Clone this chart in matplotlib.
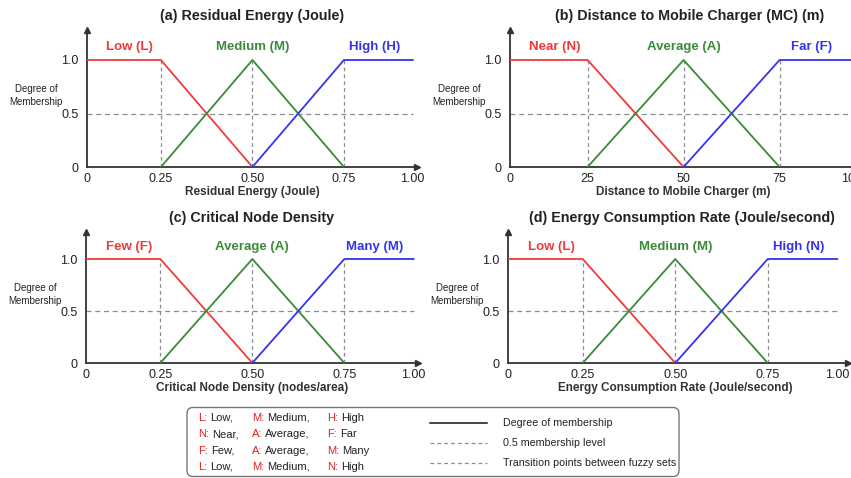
import numpy as np
import matplotlib
matplotlib.use("Agg")
import matplotlib.pyplot as plt
from matplotlib.patches import FancyBboxPatch

plt.rcParams["font.family"] = ["Liberation Sans", "DejaVu Sans"]

# membership breakpoints (x) and degrees (mu) for each panel
ENERGY_LOW_X = [0.0, 0.25, 0.50]
ENERGY_MID_X = [0.25, 0.50, 0.75]
ENERGY_HIGH_X = [0.50, 0.75, 1.00]
DIST_LOW_X = [0, 25, 50]
DIST_MID_X = [25, 50, 75]
DIST_HIGH_X = [50, 75, 100]
LOW_MU = [1.0, 1.0, 0.0]
MID_MU = [0.0, 1.0, 0.0]
HIGH_MU = [0.0, 1.0, 1.0]

FRAC_TICKS = [0.0, 0.25, 0.50, 0.75, 1.00]
FRAC_TICKLABELS = ["0", "0.25", "0.50", "0.75", "1.00"]
DIST_TICKS = [0, 25, 50, 75, 100]
DIST_TICKLABELS = ["0", "25", "50", "75", "100"]
MU_TICKS = [0.0, 0.5, 1.0]
MU_TICKLABELS = ["0", "0.5", "1.0"]

TITLES = [
    "(a) Residual Energy (Joule)",
    "(b) Distance to Mobile Charger (MC) (m)",
    "(c) Critical Node Density",
    "(d) Energy Consumption Rate (Joule/second)",
]
XLABELS = [
    "Residual Energy (Joule)",
    "Distance to Mobile Charger (m)",
    "Critical Node Density (nodes/area)",
    "Energy Consumption Rate (Joule/second)",
]
SET_NAMES = [
    ["Low (L)", "Medium (M)", "High (H)"],
    ["Near (N)", "Average (A)", "Far (F)"],
    ["Few (F)", "Average (A)", "Many (M)"],
    ["Low (L)", "Medium (M)", "High (N)"],
]

LEGEND_ROWS = [
    [("L:", "Low,"), ("M:", "Medium,"), ("H:", "High")],
    [("N:", "Near,"), ("A:", "Average,"), ("F:", "Far")],
    [("F:", "Few,"), ("A:", "Average,"), ("M:", "Many")],
    [("L:", "Low,"), ("M:", "Medium,"), ("N:", "High")],
]
LEGEND_LINES = [
    "Degree of membership",
    "0.5 membership level",
    "Transition points between fuzzy sets",
]

RED = "#f03a3a"
GREEN = "#3a8a3a"
BLUE = "#3434f0"
GRID = "#8c8c8c"
AXIS = "#333333"
TEXT = "#222222"

W, H = 851, 478


def piecewise_scale(span):
    # flat shoulders are drawn narrower than the sloped part in the original
    kx = np.array([-1.0, 0.0, 0.25, 0.75, 1.0, 2.0]) * span
    kt = np.array([-0.808, 0.0, 0.202, 0.702, 0.890, 1.642])
    return (lambda v: np.interp(v, kx, kt)), (lambda v: np.interp(v, kt, kx))


# left px, unit px, y=0 px, px per 1.0, top px, xmax (fraction of span), title x
PANELS = [
    (87, 366, 167, 107, 30, 1.016, 0.50),
    (510, 384, 167, 107, 30, 1.012, 0.52),
    (86, 368, 363, 104, 232, 1.016, 0.50),
    (508, 370, 363, 104, 232, 1.04, 0.51),
]

fig = plt.figure(figsize=(W / 100, H / 100), dpi=100)
fig.patch.set_facecolor("white")

series = [
    (ENERGY_LOW_X, ENERGY_MID_X, ENERGY_HIGH_X, 1.0, FRAC_TICKS, FRAC_TICKLABELS),
    (DIST_LOW_X, DIST_MID_X, DIST_HIGH_X, 100.0, DIST_TICKS, DIST_TICKLABELS),
    (ENERGY_LOW_X, ENERGY_MID_X, ENERGY_HIGH_X, 1.0, FRAC_TICKS, FRAC_TICKLABELS),
    (ENERGY_LOW_X, ENERGY_MID_X, ENERGY_HIGH_X, 1.0, FRAC_TICKS, FRAC_TICKLABELS),
]

for i, (left, unit, y0, one, top, xmax, title_x) in enumerate(PANELS):
    low_x, mid_x, high_x, span, ticks, ticklabels = series[i]
    fwd, inv = piecewise_scale(span)
    width = fwd(xmax * span) * unit
    height = y0 - top
    ax = fig.add_axes([left / W, (H - y0) / H, width / W, height / H])
    ax.set_xscale("function", functions=(fwd, inv))
    ax.set_xlim(0, xmax * span)
    ax.set_ylim(0, height / one)

    # guides
    ax.plot([0, span], [0.5, 0.5], color=GRID, lw=0.9, dashes=(4, 3), zorder=1)
    for xv in mid_x:
        ax.plot([xv, xv], [0, 1], color=GRID, lw=0.9, dashes=(3, 2.5), zorder=1)

    ax.plot(low_x, LOW_MU, color=RED, lw=1.3, zorder=3)
    ax.plot(mid_x, MID_MU, color=GREEN, lw=1.3, zorder=3)
    ax.plot(high_x, HIGH_MU, color=BLUE, lw=1.3, zorder=3)

    names = SET_NAMES[i]
    label_x = [0.145 * span, mid_x[1], 0.86 * span]
    for name, xv, col in zip(names, label_x, [RED, GREEN, BLUE]):
        ax.text(xv, 1.12, name, color=col, ha="center", va="center",
                fontsize=9.5, fontweight="bold")

    for side in ["top", "right"]:
        ax.spines[side].set_visible(False)
    for side in ["left", "bottom"]:
        ax.spines[side].set_color(AXIS)
        ax.spines[side].set_linewidth(1.3)
    ax.plot(1, 0, ">", color=AXIS, ms=5, transform=ax.transAxes, clip_on=False)
    ax.plot(0, 1, "^", color=AXIS, ms=5, transform=ax.transAxes, clip_on=False)

    ax.set_xticks(ticks)
    ax.set_xticklabels(ticklabels)
    ax.set_yticks(MU_TICKS)
    ax.set_yticklabels(MU_TICKLABELS)
    ax.tick_params(axis="both", length=0, labelsize=9, colors=TEXT)
    ax.tick_params(axis="x", pad=4)
    ax.tick_params(axis="y", pad=6)
    ax.minorticks_off()

    ax.set_title(TITLES[i], fontsize=10.3, fontweight="bold", pad=7,
                 color=TEXT, x=title_x)
    ax.text(mid_x[1], -25 / one, XLABELS[i], ha="center", va="center",
            fontsize=8.5, fontweight="bold", color="#333333")
    ax.text(-51 / width, 0.52, "Degree of\nMembership", transform=ax.transAxes,
            ha="center", va="center", fontsize=7, linespacing=1.35, color=TEXT)

# legend box at the bottom
lx0, ly0, lx1 = 186, 406, 680
leg = fig.add_axes([lx0 / W, 0, (lx1 - lx0) / W, (H - ly0) / H])
leg.set_xlim(0, lx1 - lx0)
leg.set_ylim(H - ly0, 0)
leg.axis("off")
leg.add_patch(FancyBboxPatch((1, 1.5), lx1 - lx0 - 2, H - ly0 - 3,
                             boxstyle="round,pad=0,rounding_size=6",
                             fc="white", ec="#777777", lw=1.0))

renderer = fig.canvas.get_renderer()
to_data = leg.transData.inverted()
col_x = [12, 66, 141]
for r, row in enumerate(LEGEND_ROWS):
    yy = 15 + r * 16.3
    for (abbr, word), cx in zip(row, col_x):
        t = leg.text(cx, yy, abbr, color="#e02020", fontsize=8, va="baseline")
        x_end = to_data.transform(t.get_window_extent(renderer).get_points())[1, 0]
        leg.text(x_end + 3, yy, word, fontsize=8, va="baseline", color=TEXT)

line_styles = [dict(color="#111111", lw=1.1),
               dict(color=GRID, lw=0.9, dashes=(3, 2.5)),
               dict(color=GRID, lw=0.9, dashes=(3, 2.5))]
for r, (txt, st) in enumerate(zip(LEGEND_LINES, line_styles)):
    yy = 17 + r * 20
    leg.plot([244, 301], [yy, yy], **st)
    leg.text(317, yy, txt, fontsize=7.7, va="center", color=TEXT)

fig.savefig("out.png", dpi=100)
